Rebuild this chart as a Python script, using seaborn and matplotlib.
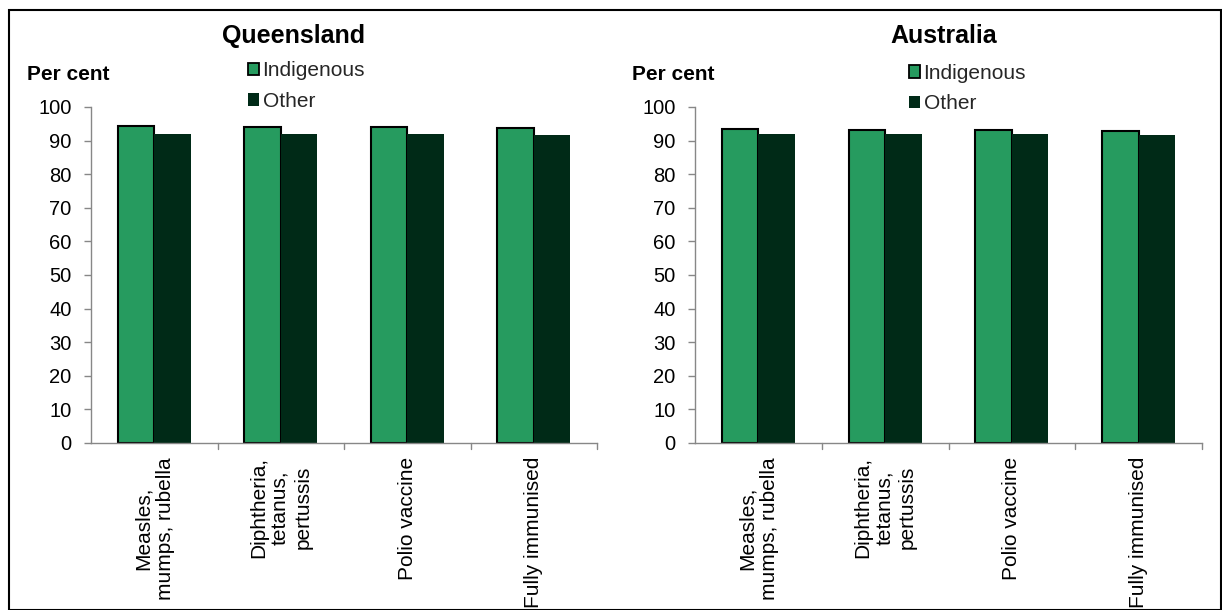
import matplotlib
matplotlib.use("Agg")
import matplotlib.pyplot as plt
import seaborn as sns
import pandas as pd
from matplotlib.patches import Rectangle, Patch

categories = ["Measles,\nmumps, rubella", "Diphtheria,\ntetanus,\npertussis", "Polio vaccine", "Fully immunised"]
series = ["Indigenous", "Other"]
qld_indigenous = [94.3, 94.0, 94.0, 93.8]
qld_other = [92.1, 92.1, 92.1, 91.7]
aus_indigenous = [93.5, 93.2, 93.1, 92.9]
aus_other = [92.1, 92.1, 92.1, 91.7]
yticks = list(range(0, 101, 10))
panels = ["Queensland", "Australia"]

colors = {"Indigenous": "#269B5F", "Other": "#002A17"}
AXIS_GREY = "#878787"

sns.set_theme(style="white")
plt.rcParams['font.family'] = ['Liberation Sans', 'DejaVu Sans']

fig = plt.figure(figsize=(12.22, 6.10), dpi=100)
fig.patches.append(Rectangle((9 / 1222, 0.0), 1212 / 1222, 1 - 10 / 610, transform=fig.transFigure,
                             fill=False, edgecolor="black", linewidth=1.5, zorder=0))

positions = [[91 / 1222, 1 - 443 / 610, 506 / 1222, 336 / 610],
             [695 / 1222, 1 - 443 / 610, 507 / 1222, 336 / 610]]
title_x = [293.5 / 1222, 943.5 / 1222]
percent_x = [27 / 1222, 632 / 1222]
legend_anchor = [(248 / 1222, 1 - 86 / 610), (909 / 1222, 1 - 88.5 / 610)]
data_sets = [(qld_indigenous, qld_other), (aus_indigenous, aus_other)]

for i, (pos, title, (ind, oth)) in enumerate(zip(positions, panels, data_sets)):
    ax = fig.add_axes(pos)
    df = pd.DataFrame({
        "cat": categories * 2,
        "series": ["Indigenous"] * 4 + ["Other"] * 4,
        "value": list(ind) + list(oth),
    })
    sns.barplot(data=df, x="cat", y="value", hue="series", palette=colors,
                width=0.575, ax=ax, saturation=1, legend=False)
    for p in ax.patches[:4]:
        p.set_edgecolor("black")
        p.set_linewidth(1.5)
    for p in ax.patches[4:]:
        p.set_linewidth(0)
    ax.set_ylim(0, 100)
    ax.set_xlim(-0.5, 3.5)
    ax.set_yticks(yticks)
    ax.set_yticklabels([str(v) for v in yticks], fontsize=14.5, color="black")
    ax.set_xlabel("")
    ax.set_ylabel("")
    ax.set_xticks(range(4))
    ax.set_xticklabels(categories, rotation=90, fontsize=15, va="top", ha="center",
                       multialignment="center", color="black")
    ax.tick_params(axis="x", length=0, pad=10)
    ax.tick_params(axis="y", left=True, length=5, color=AXIS_GREY, width=1, pad=9)
    for b in [0.5, 1.5, 2.5, 3.5]:
        ax.plot([b, b], [0, -1.8], color=AXIS_GREY, lw=1, clip_on=False)
    for s in ["top", "right"]:
        ax.spines[s].set_visible(False)
    for s in ["left", "bottom"]:
        ax.spines[s].set_color(AXIS_GREY)
        ax.spines[s].set_linewidth(1)

    fig.text(title_x[i], 1 - 43.3 / 610, title, fontsize=18, fontweight="bold",
             ha="center", va="baseline", color="black")
    fig.text(percent_x[i], 1 - 80 / 610, "Per cent", fontsize=15, fontweight="bold",
             ha="left", va="baseline", color="black")
    handles = [Patch(facecolor=colors["Indigenous"], edgecolor="black", linewidth=1.3),
               Patch(facecolor=colors["Other"], edgecolor=colors["Other"], linewidth=0)]
    fig.legend(handles, series, loc="center left", bbox_to_anchor=legend_anchor[i],
               bbox_transform=fig.transFigure,
               frameon=False, fontsize=15, handlelength=0.55, handleheight=0.55,
               handletextpad=0.15, labelspacing=0.55, borderaxespad=0, borderpad=0)

fig.savefig("out.png", dpi=100)
